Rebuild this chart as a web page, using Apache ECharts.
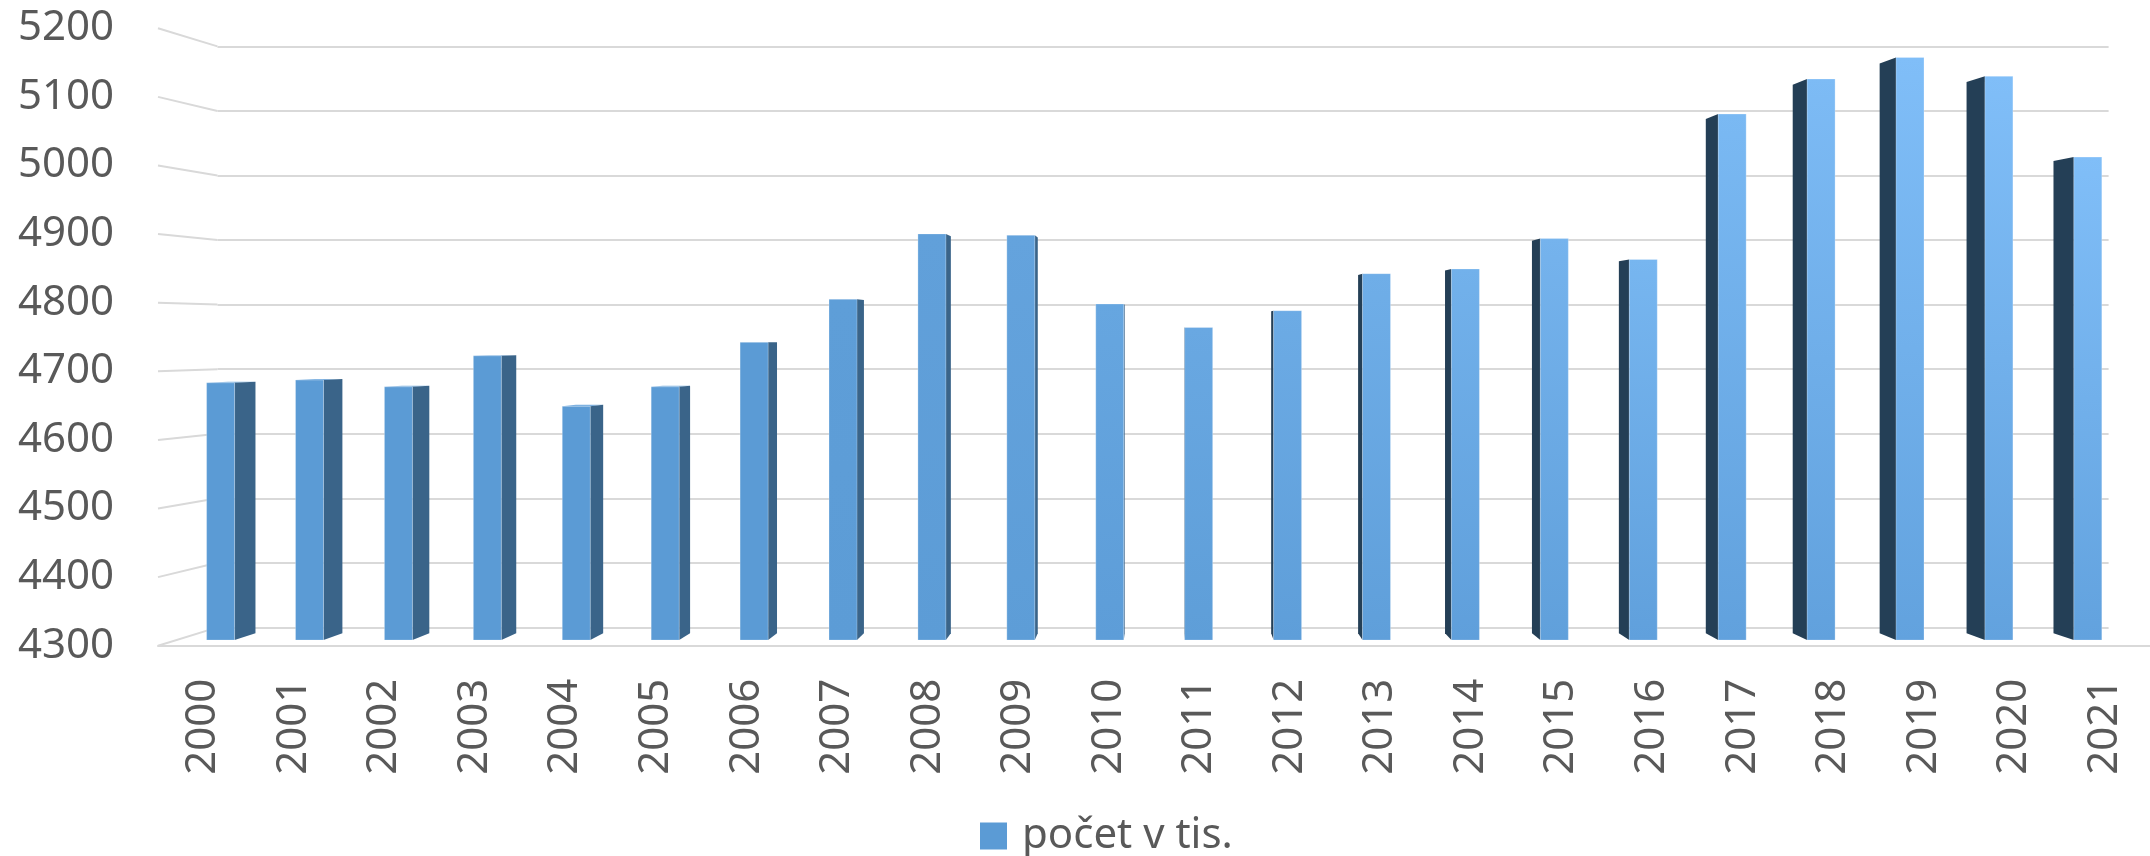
<!DOCTYPE html>
<html>
<head>
<meta charset="utf-8">
<script src="https://cdn.jsdelivr.net/npm/echarts@6/dist/echarts.min.js"></script>
<style>
  html, body { margin: 0; padding: 0; background: #fff; }
  #main { width: 2150px; height: 856px; }
</style>
</head>
<body>
<div id="main"></div>
<script>
// roky a hodnoty (počet v tis.)
var years = ['2000', '2001', '2002', '2003', '2004', '2005', '2006', '2007', '2008', '2009', '2010',
  '2011', '2012', '2013', '2014', '2015', '2016', '2017', '2018', '2019', '2020', '2021']
var counts = [4682, 4686, 4676, 4722, 4647, 4676, 4742, 4806, 4903, 4901, 4799,
  4764, 4789, 4844, 4851, 4896, 4865, 5081, 5133, 5165, 5137, 5017]
var yTicks = [4300, 4400, 4500, 4600, 4700, 4800, 4900, 5000, 5100, 5200]
var yMin = 4300
var yMax = 5200

// perspektiva - úběžník a hloubka jednotlivých rovin (1 = přední rovina)
var VP = [1166, 335]
var DEPTH_WALL = 0.941
var DEPTH_BAR_FRONT = 0.982
var DEPTH_BAR_BACK = 0.960
var BAR_RATIO = 0.315

// přední rovina grafu
var frontRect = { left: 158, top: 28.3, width: 2009.7, height: 617.4 }

function proj(p, s) {
  return [VP[0] + (p[0] - VP[0]) * s, VP[1] + (p[1] - VP[1]) * s]
}
var backTL = proj([frontRect.left, frontRect.top], DEPTH_WALL)
var backBR = proj([frontRect.left + frontRect.width, frontRect.top + frontRect.height], DEPTH_WALL)

function hex2rgb(h) {
  return [parseInt(h.substr(1, 2), 16), parseInt(h.substr(3, 2), 16), parseInt(h.substr(5, 2), 16)]
}
function mix(a, b, t) {
  var ca = hex2rgb(a)
  var cb = hex2rgb(b)
  var c = ca.map(function(v, k) { return Math.round(v + (cb[k] - v) * t) })
  return 'rgb(' + c.join(',') + ')'
}

var chart = echarts.init(document.getElementById('main'))

chart.setOption({
  animation: false,
  backgroundColor: '#ffffff',
  textStyle: { fontFamily: 'Noto Sans' },
  legend: {
    data: ['počet v tis.'],
    left: 980,
    top: 815,
    padding: 0,
    icon: 'rect',
    itemWidth: 27,
    itemHeight: 27,
    textStyle: { fontSize: 42, color: '#595959', fontFamily: 'Noto Sans', lineHeight: 42, padding: [0, 0, 0, 10] }
  },
  grid: [
    // zadní stěna
    { left: backTL[0], top: backTL[1], width: backBR[0] - backTL[0], height: backBR[1] - backTL[1] },
    // přední rovina
    { left: frontRect.left, top: frontRect.top, width: frontRect.width, height: frontRect.height }
  ],
  xAxis: [
    { gridIndex: 0, type: 'category', data: years, show: false },
    {
      gridIndex: 1,
      type: 'category',
      data: years,
      axisLine: { show: true, lineStyle: { color: '#d9d9d9', width: 2 } },
      axisTick: { show: false },
      axisLabel: { interval: 0, rotate: 90, margin: 33, fontSize: 42, color: '#595959', fontFamily: 'Noto Sans' }
    }
  ],
  yAxis: [
    {
      gridIndex: 0,
      type: 'value',
      min: yMin,
      max: yMax,
      interval: 100,
      axisLabel: { show: false },
      axisLine: { show: false },
      axisTick: { show: false },
      splitLine: { show: true, lineStyle: { color: '#d9d9d9', width: 2 } }
    },
    {
      gridIndex: 1,
      type: 'value',
      min: yMin,
      max: yMax,
      interval: 100,
      axisLabel: {
        margin: 44,
        fontSize: 42,
        color: '#595959',
        fontFamily: 'Noto Sans',
        formatter: function(v) { return String(v) }
      },
      axisLine: { show: false },
      axisTick: { show: false },
      splitLine: { show: false }
    }
  ],
  series: [
    {
      // šikmé spojnice mřížky k zadní stěně
      type: 'custom',
      name: 'mrizka',
      xAxisIndex: 1,
      yAxisIndex: 1,
      silent: true,
      z: 1,
      data: yTicks.map(function(v) { return [0, v] }),
      renderItem: function(params, api) {
        var p = api.coord([0, api.value(1)])
        var f = [p[0] - api.size([1, 0])[0] / 2, p[1]]
        var b = proj(f, DEPTH_WALL)
        return {
          type: 'line',
          shape: { x1: f[0], y1: f[1], x2: b[0], y2: b[1] },
          style: { stroke: '#d9d9d9', lineWidth: 2 }
        }
      }
    },
    {
      type: 'custom',
      name: 'počet v tis.',
      xAxisIndex: 1,
      yAxisIndex: 1,
      z: 3,
      itemStyle: { color: '#5b9bd5' },
      data: counts.map(function(v, i) { return [i, v] }),
      renderItem: function(params, api) {
        var i = api.value(0)
        var top = api.coord([i, api.value(1)])
        var base = api.coord([i, yMin])
        var hw = api.size([1, 0])[0] * BAR_RATIO / 2
        var L = top[0] - hw
        var R = top[0] + hw
        var fTL = proj([L, top[1]], DEPTH_BAR_FRONT)
        var fTR = proj([R, top[1]], DEPTH_BAR_FRONT)
        var fBL = proj([L, base[1]], DEPTH_BAR_FRONT)
        var fBR = proj([R, base[1]], DEPTH_BAR_FRONT)
        var bTL = proj([L, top[1]], DEPTH_BAR_BACK)
        var bTR = proj([R, top[1]], DEPTH_BAR_BACK)
        var bBL = proj([L, base[1]], DEPTH_BAR_BACK)
        var bBR = proj([R, base[1]], DEPTH_BAR_BACK)

        var t = Math.max(0, Math.min(1, (i - 6) / 13))
        var topC = mix('#5b9bd5', '#80bef8', t)
        var botC = mix('#5b9bd5', '#62a2de', t)
        var leftSide = top[0] > VP[0]
        var sideC = leftSide ? '#243f56' : '#3a6489'

        var children = []
        if (fTL[1] > VP[1]) {
          children.push({
            type: 'polygon',
            shape: { points: [fTL, fTR, bTR, bTL] },
            style: { fill: '#7aafe0' }
          })
        }
        children.push({
          type: 'polygon',
          shape: { points: leftSide ? [fTL, bTL, bBL, fBL] : [fTR, bTR, bBR, fBR] },
          style: { fill: sideC }
        })
        children.push({
          type: 'rect',
          shape: { x: fTL[0], y: fTL[1], width: fTR[0] - fTL[0], height: fBL[1] - fTL[1] },
          style: {
            fill: new echarts.graphic.LinearGradient(0, 0, 0, 1, [
              { offset: 0, color: topC },
              { offset: 1, color: botC }
            ]),
            stroke: 'rgba(255,255,255,0.25)',
            lineWidth: 1
          }
        })
        return { type: 'group', children: children }
      }
    }
  ]
})
</script>
</body>
</html>
